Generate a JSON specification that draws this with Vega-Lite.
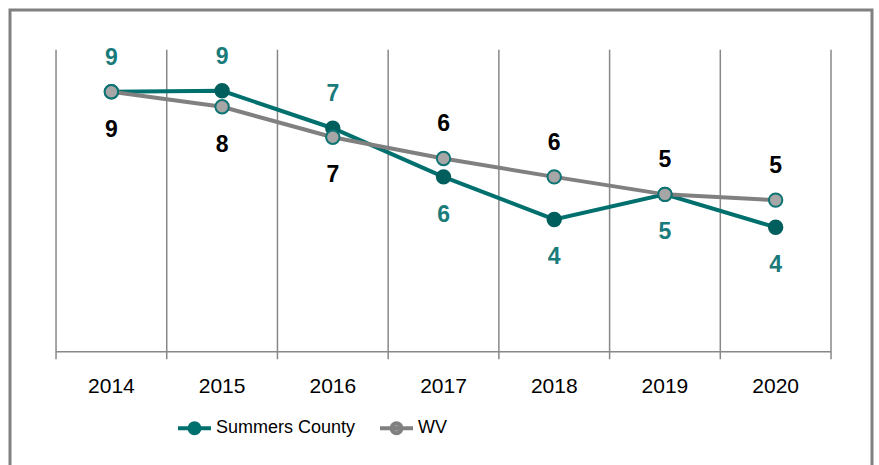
{
  "$schema": "https://vega.github.io/schema/vega-lite/v6.json",
  "width": 862,
  "height": 461,
  "autosize": {"type": "none"},
  "padding": {"left": 10, "top": 10, "right": 7, "bottom": -6},
  "background": "white",
  "config": {
    "view": {"stroke": "#808080", "strokeWidth": 3},
    "font": "Liberation Sans",
    "axisX": {
      "offset": -119.3,
      "domain": false,
      "ticks": false,
      "grid": false,
      "labelFont": "Liberation Sans",
      "labelFontSize": 21,
      "labelColor": "#000000",
      "labelPadding": 35,
      "labelBaseline": "middle",
      "labelAngle": 0
    },
    "legend": {
      "orient": "none",
      "legendX": 166,
      "legendY": 399.5,
      "direction": "horizontal",
      "symbolType": "M-1,0L1,0M0.3,0A0.3,0.3,0,1,1,-0.3,0A0.3,0.3,0,1,1,0.3,0Z",
      "symbolSize": 1089,
      "symbolStrokeWidth": 4,
      "labelFont": "Liberation Sans",
      "labelFontSize": 18,
      "labelColor": "#000000",
      "labelOffset": 3,
      "columnPadding": 16,
      "padding": 0
    }
  },
  "data": {
    "values": [
      {"year": 2014, "series": "Summers County", "value": 8.61},
      {"year": 2015, "series": "Summers County", "value": 8.64},
      {"year": 2016, "series": "Summers County", "value": 7.40},
      {"year": 2017, "series": "Summers County", "value": 5.79},
      {"year": 2018, "series": "Summers County", "value": 4.38},
      {"year": 2019, "series": "Summers County", "value": 5.21},
      {"year": 2020, "series": "Summers County", "value": 4.12},
      {"year": 2014, "series": "WV", "value": 8.61},
      {"year": 2015, "series": "WV", "value": 8.11},
      {"year": 2016, "series": "WV", "value": 7.10},
      {"year": 2017, "series": "WV", "value": 6.40},
      {"year": 2018, "series": "WV", "value": 5.79},
      {"year": 2019, "series": "WV", "value": 5.21},
      {"year": 2020, "series": "WV", "value": 5.02}
    ]
  },
  "layer": [
    {
      "transform": [{"filter": "datum.series === 'WV'"}],
      "mark": {"type": "rule", "color": "#888888", "strokeWidth": 1.5},
      "encoding": {
        "x": {"field": "year", "type": "ordinal", "bandPosition": 0, "title": null, "scale": {"type": "band", "paddingInner": 0, "paddingOuter": 0.393, "align": 0.529}},
        "y": {"datum": -0.25, "type": "quantitative", "scale": {"domain": [-3.95, 11.315], "nice": false, "zero": false}, "axis": null},
        "y2": {"datum": 10}
      }
    },
    {
      "transform": [{"filter": "datum.series === 'WV' && datum.year === 2020"}],
      "mark": {"type": "rule", "color": "#888888", "strokeWidth": 1.5},
      "encoding": {
        "x": {"field": "year", "type": "ordinal", "bandPosition": 1, "title": null},
        "y": {"datum": -0.25, "type": "quantitative", "axis": null},
        "y2": {"datum": 10}
      }
    },
    {
      "transform": [{"filter": "datum.series === 'WV'"}],
      "mark": {"type": "rule", "color": "#888888", "strokeWidth": 1.5},
      "encoding": {
        "x": {"field": "year", "type": "ordinal", "bandPosition": 0, "title": null},
        "x2": {"field": "year", "bandPosition": 1},
        "y": {"datum": 0, "type": "quantitative", "axis": null}
      }
    },
    {
      "mark": {"type": "line", "strokeWidth": 4},
      "encoding": {
        "x": {"field": "year", "type": "ordinal", "title": null},
        "y": {"field": "value", "type": "quantitative", "axis": null},
        "color": {
          "field": "series",
          "type": "nominal",
          "scale": {"domain": ["Summers County", "WV"], "range": ["#00706E", "#808080"]},
          "legend": {
            "title": null,
            "encode": {
              "symbols": {
                "update": {
                  "fill": [{"test": "datum.value === 'WV'", "value": "#A6A6A6"}, {"value": "#00706E"}],
                  "stroke": [{"test": "datum.value === 'WV'", "value": "#808080"}, {"value": "#00706E"}],
                  "strokeWidth": {"value": 4}
                }
              }
            }
          }
        }
      }
    },
    {
      "mark": {"type": "point", "filled": true, "size": 180, "strokeWidth": 2, "opacity": 1},
      "encoding": {
        "x": {"field": "year", "type": "ordinal", "title": null},
        "y": {"field": "value", "type": "quantitative", "axis": null},
        "fill": {"condition": {"test": "datum.series === 'WV'", "value": "#A6A6A6"}, "value": "#005F5D"},
        "stroke": {"condition": {"test": "datum.series === 'WV'", "value": "#0E7373"}, "value": "#005F5D"}
      }
    },
    {
      "transform": [{"filter": "(datum.series === 'Summers County') === (datum.year <= 2016)"}],
      "mark": {"type": "text", "dy": -34, "fontWeight": "bold", "fontSize": 23, "baseline": "middle", "font": "Liberation Sans"},
      "encoding": {
        "x": {"field": "year", "type": "ordinal", "title": null},
        "y": {"field": "value", "type": "quantitative", "axis": null},
        "text": {"field": "value", "type": "quantitative", "format": ".0f"},
        "color": {"condition": {"test": "datum.series === 'WV'", "value": "#000000"}, "value": "#1A7B7B"}
      }
    },
    {
      "transform": [{"filter": "(datum.series === 'Summers County') !== (datum.year <= 2016)"}],
      "mark": {"type": "text", "dy": 38, "fontWeight": "bold", "fontSize": 23, "baseline": "middle", "font": "Liberation Sans"},
      "encoding": {
        "x": {"field": "year", "type": "ordinal", "title": null},
        "y": {"field": "value", "type": "quantitative", "axis": null},
        "text": {"field": "value", "type": "quantitative", "format": ".0f"},
        "color": {"condition": {"test": "datum.series === 'WV'", "value": "#000000"}, "value": "#1A7B7B"}
      }
    }
  ]
}
